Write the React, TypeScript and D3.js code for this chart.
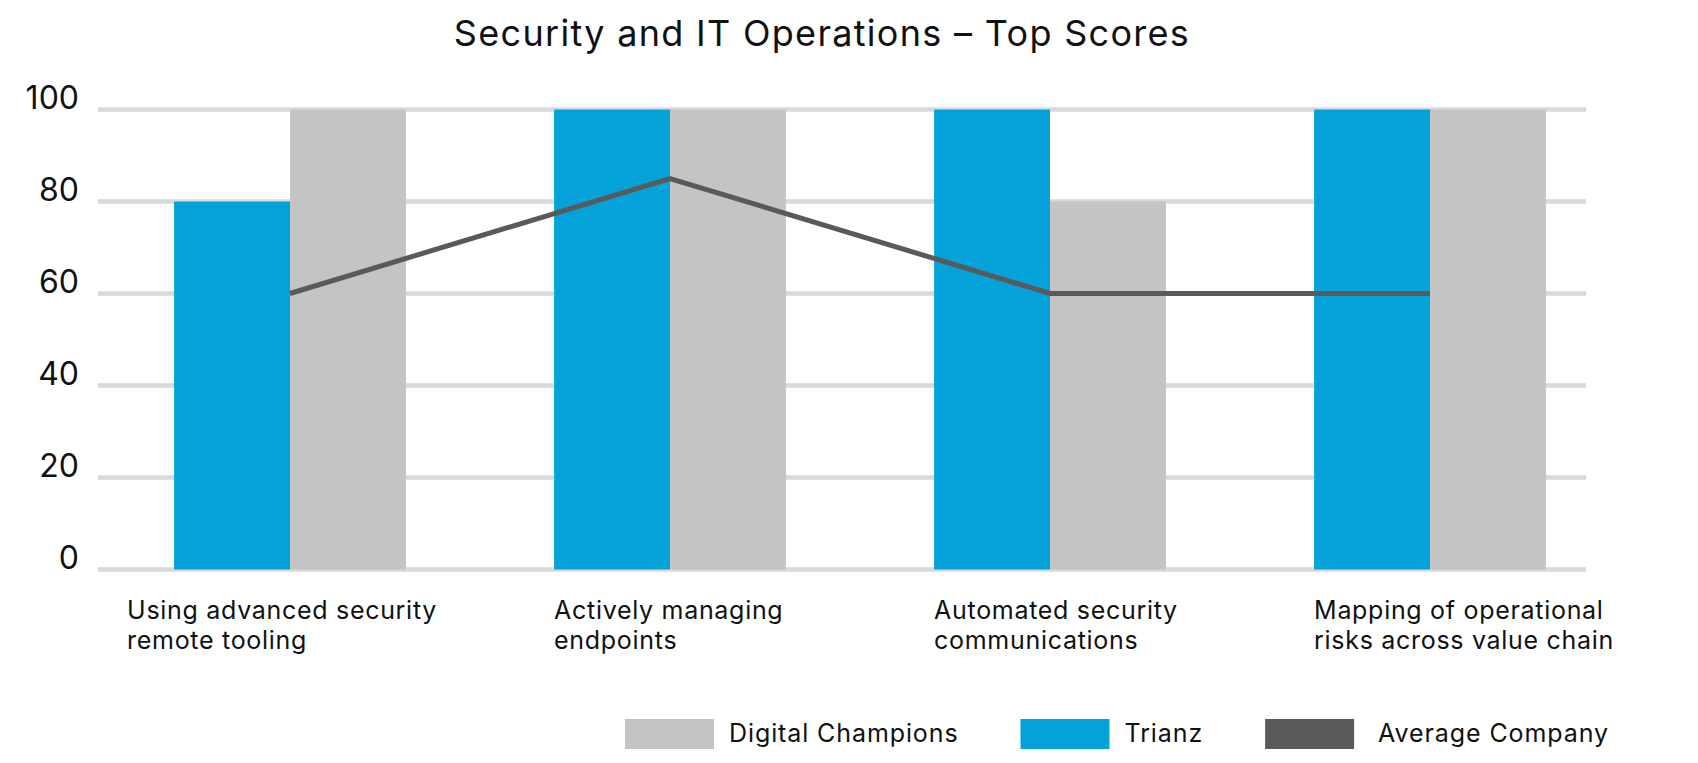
import React, { useEffect, useRef } from 'react';
import * as d3 from 'd3';

const categories: string[][] = [
  ['Using advanced security', 'remote tooling'],
  ['Actively managing', 'endpoints'],
  ['Automated security', 'communications'],
  ['Mapping of operational', 'risks across value chain'],
];
const trianz = [80, 100, 100, 100];
const digitalChampions = [100, 100, 80, 100];
const averageCompany = [60, 85, 60, 60];
const yTicks = [0, 20, 40, 60, 80, 100];
const legendNames = ['Digital Champions', 'Trianz', 'Average Company'];
const title = 'Security and IT Operations – Top Scores';

const W = 1698;
const H = 763;
const FONT = "Inter, 'Open Sans', sans-serif";
const C_TRIANZ = '#03a3d9';
const C_DC = '#c4c4c4';
const C_AVG = '#5a5a5a';
const C_GRID = '#d9d9d9';

export default function App() {
  const ref = useRef<SVGSVGElement>(null);

  useEffect(() => {
    document.body.style.margin = '0';
    const svg = d3.select(ref.current);
    svg.selectAll('*').remove();

    const ids = categories.map((_, i) => String(i));
    const x = d3.scaleBand<string>().domain(ids).range([100, 1620]).paddingInner(0.39).paddingOuter(0.195);
    const xs = d3.scaleBand<string>().domain(['t', 'd']).range([0, x.bandwidth()]);
    const y = d3.scaleLinear().domain([0, 100]).range([569.5, 109.5]);
    const gridX0 = 98;
    const gridX1 = 1586;

    // title
    svg.append('text')
      .attr('x', 822).attr('y', 46)
      .attr('text-anchor', 'middle')
      .attr('font-family', FONT).attr('font-size', 36)
      .attr('letter-spacing', 1.3)
      .attr('fill', '#111')
      .text(title);

    // grid
    svg.append('g').selectAll('line').data(yTicks).join('line')
      .attr('x1', gridX0).attr('x2', gridX1)
      .attr('y1', (d) => y(d)).attr('y2', (d) => y(d))
      .attr('stroke', C_GRID).attr('stroke-width', 4.5);

    // y tick labels
    svg.append('g').selectAll('text').data(yTicks).join('text')
      .attr('x', 79).attr('y', (d) => y(d) - 0.5)
      .attr('text-anchor', 'end')
      .attr('font-family', FONT).attr('font-size', 32)
      .attr('fill', '#111')
      .text((d) => String(d));

    // bars
    const groups = svg.append('g').selectAll('g').data(ids).join('g')
      .attr('transform', (d) => `translate(${x(d)},0)`);
    groups.append('rect')
      .attr('x', xs('t')!).attr('width', xs.bandwidth())
      .attr('y', (_, i) => y(trianz[i])).attr('height', (_, i) => y(0) - y(trianz[i]))
      .attr('fill', C_TRIANZ);
    groups.append('rect')
      .attr('x', xs('d')!).attr('width', xs.bandwidth())
      .attr('y', (_, i) => y(digitalChampions[i])).attr('height', (_, i) => y(0) - y(digitalChampions[i]))
      .attr('fill', C_DC);

    // line
    const line = d3.line<number>()
      .x((_, i) => x(String(i))! + x.bandwidth() / 2)
      .y((d) => y(d));
    svg.append('path')
      .attr('d', line(averageCompany)!)
      .attr('fill', 'none')
      .attr('stroke', C_AVG)
      .attr('stroke-width', 5);

    // x labels
    const labelNudge = [-47, 0, 0, 0];
    const lab = svg.append('g').selectAll('text').data(categories).join('text')
      .attr('font-family', FONT).attr('font-size', 25)
      .attr('letter-spacing', 0.7)
      .attr('fill', '#111');
    lab.each(function (lines, i) {
      const t = d3.select(this);
      const x0 = x(String(i))! + labelNudge[i];
      lines.forEach((ln, k) => {
        t.append('tspan').attr('x', x0).attr('y', 619 + k * 29.5).text(ln);
      });
    });

    // legend
    const legendColors = [C_DC, C_TRIANZ, C_AVG];
    let lx = 625;
    const lg = svg.append('g');
    legendNames.forEach((name, i) => {
      lg.append('rect').attr('x', lx).attr('y', 719).attr('width', 89).attr('height', 30).attr('fill', legendColors[i]);
      const gap = i === 2 ? 24 : 15;
      const tx = lg.append('text')
        .attr('x', lx + 89 + gap).attr('y', 742)
        .attr('font-family', FONT).attr('font-size', 25)
        .attr('letter-spacing', 0.9)
        .attr('fill', '#111')
        .text(name);
      const w = (tx.node() as SVGTextElement).getComputedTextLength();
      lx = lx + 89 + gap + w + 62;
    });
  }, []);

  return <svg ref={ref} width={W} height={H} style={{ display: 'block', background: '#fff' }} />;
}
